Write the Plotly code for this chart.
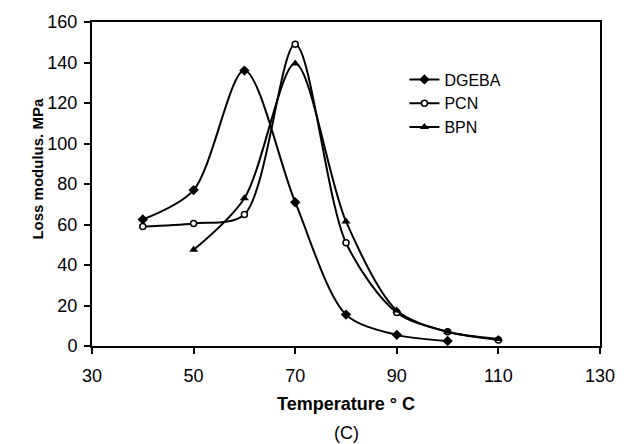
import plotly.graph_objects as go

dgeba_x = [40, 50, 60, 70, 80, 90, 100]
dgeba_y = [62.5, 77, 136, 71, 15.5, 5.5, 2.5]

pcn_x = [40, 50, 60, 70, 80, 90, 100, 110]
pcn_y = [59, 60.5, 65, 149, 51, 16.5, 7, 3]

bpn_x = [50, 60, 70, 80, 90, 100, 110]
bpn_y = [47.5, 73, 139.5, 61.5, 17.5, 7, 3.5]

x_ticks = [30, 50, 70, 90, 110, 130]
y_ticks = [0, 20, 40, 60, 80, 100, 120, 140, 160]

FONT = "Liberation Sans, Arial, sans-serif"

fig = go.Figure()
line = dict(color="black", width=2, shape="spline", smoothing=0.85)
fig.add_trace(go.Scatter(x=dgeba_x, y=dgeba_y, name="DGEBA", mode="lines+markers",
                         line=line,
                         marker=dict(symbol="diamond", size=8, color="black")))
fig.add_trace(go.Scatter(x=pcn_x, y=pcn_y, name="PCN", mode="lines+markers",
                         line=line,
                         marker=dict(symbol="circle", size=6, color="white",
                                     line=dict(color="black", width=1.5))))
fig.add_trace(go.Scatter(x=bpn_x, y=bpn_y, name="BPN", mode="lines+markers",
                         line=line,
                         marker=dict(symbol="triangle-up", size=8, color="black")))

axis_common = dict(showline=True, linecolor="black", linewidth=2, mirror=True,
                   showgrid=False, zeroline=False, ticks="outside", ticklen=6,
                   tickwidth=1.5, tickcolor="black",
                   tickfont=dict(family=FONT, size=18, color="black"))

fig.update_xaxes(range=[30, 130], tickvals=x_ticks, ticklabelstandoff=6, **axis_common)
fig.update_yaxes(range=[0, 160], tickvals=y_ticks, ticklabelstandoff=3, **axis_common)

fig.add_annotation(text="<b>Loss modulus. MPa</b>", xref="paper", yref="paper",
                   x=-0.1066, y=0.547, textangle=-90, showarrow=False,
                   font=dict(family=FONT, size=15, color="black"),
                   xanchor="center", yanchor="middle")
fig.add_annotation(text="<b>Temperature ° C</b>", xref="paper", yref="paper",
                   x=0.5, y=-0.18, showarrow=False,
                   font=dict(family=FONT, size=18, color="black"),
                   xanchor="center", yanchor="middle")
fig.add_annotation(text="(C)", xref="paper", yref="paper",
                   x=0.5, y=-0.269, showarrow=False,
                   font=dict(family=FONT, size=18, color="black"),
                   xanchor="center", yanchor="middle")

fig.update_layout(
    width=627, height=444,
    margin=dict(l=92, r=19, t=19, b=98),
    paper_bgcolor="white", plot_bgcolor="white",
    showlegend=True,
    legend=dict(x=0.615, y=0.875, xanchor="left", yanchor="top",
                bgcolor="rgba(0,0,0,0)", tracegroupgap=0,
                font=dict(family=FONT, size=16, color="black")),
)

fig.write_html("out.html")
